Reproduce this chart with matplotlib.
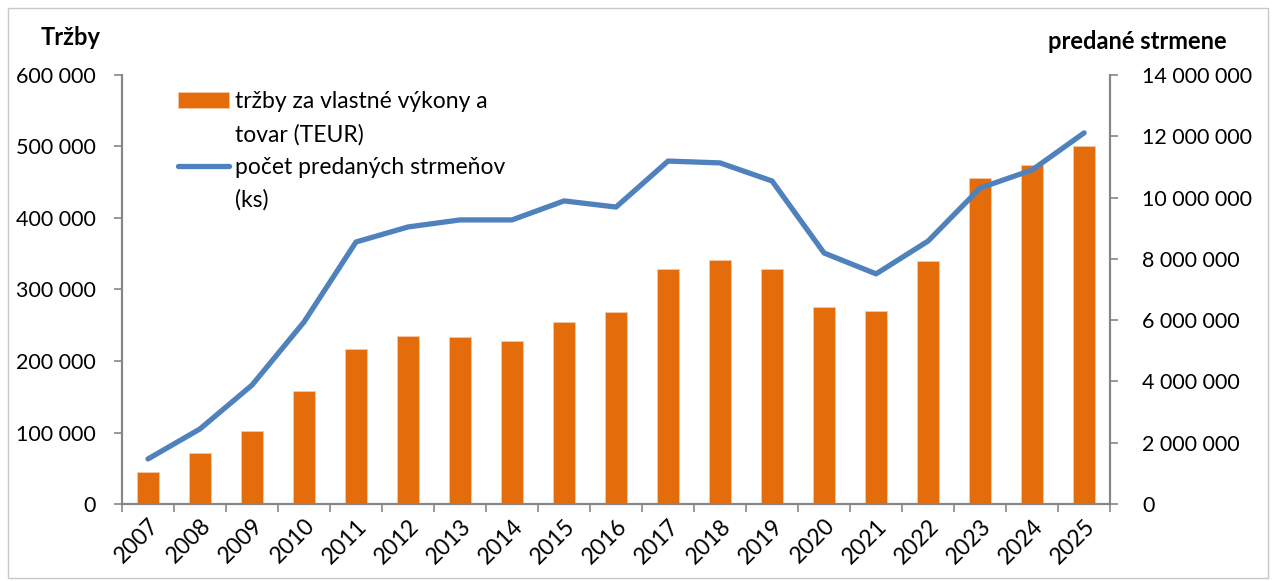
import matplotlib.pyplot as plt
import matplotlib.ticker as mticker
from matplotlib.patches import Rectangle
from matplotlib.lines import Line2D
import numpy as np

plt.rcParams['font.family'] = ['Lato', 'DejaVu Sans']

roky = ['2007', '2008', '2009', '2010', '2011', '2012', '2013', '2014', '2015', '2016',
        '2017', '2018', '2019', '2020', '2021', '2022', '2023', '2024', '2025']
trzby = [45000, 71000, 102000, 158000, 217000, 235000, 233500, 228000, 254500, 268500,
         329000, 341000, 329000, 275500, 270000, 340000, 456000, 474000, 501000]
strmene = [1470000, 2450000, 3880000, 5940000, 8550000, 9040000, 9270000, 9270000, 9890000, 9690000,
           11190000, 11130000, 10540000, 8190000, 7510000, 8580000, 10310000, 10900000, 12110000]

def medzery(x, pos):
    return f'{int(x):,}'.replace(',', ' ')

fig = plt.figure(figsize=(12.76, 5.81), dpi=100)
fig.patches.append(Rectangle((0.006, 0.006), 0.988, 0.98, transform=fig.transFigure,
                             fill=False, edgecolor='#c8c8c8', linewidth=1))
ax = fig.add_axes([0.0956, 0.1325, 0.7744, 0.7385])
ax2 = ax.twinx()

x = np.arange(len(roky))
b = ax.bar(x, trzby, width=0.42, color='#E46C0A', edgecolor='#f3c9a6', linewidth=0.6)
l, = ax2.plot(x, strmene, color='#4F81BD', linewidth=3.8, solid_capstyle='round')

ax.set_xlim(-0.5, len(roky) - 0.5)
ax.set_ylim(0, 600000)
ax2.set_ylim(0, 14000000)
ax.yaxis.set_major_locator(mticker.MultipleLocator(100000))
ax2.yaxis.set_major_locator(mticker.MultipleLocator(2000000))
ax.yaxis.set_major_formatter(mticker.FuncFormatter(medzery))
ax2.yaxis.set_major_formatter(mticker.FuncFormatter(medzery))

ax.set_xticks(x)
ax.set_xticklabels(roky, rotation=45, ha='right', rotation_mode='anchor', fontsize=16.5)
ax.set_xticks(np.arange(-0.5, len(roky)), minor=True)
ax.tick_params(axis='x', which='major', length=0, pad=8)
ax.tick_params(axis='x', which='minor', length=6, color='#868686', width=1.2)
ax.tick_params(axis='y', length=6, color='#868686', width=1.2, labelsize=15.5, pad=13)
ax2.tick_params(axis='y', length=6, color='#868686', width=1.2, labelsize=15.5, pad=17)

for a in (ax, ax2):
    a.spines['top'].set_visible(False)
    for s in ('left', 'right', 'bottom'):
        a.spines[s].set_color('#868686')
        a.spines[s].set_linewidth(1.5)

fig.text(0.055, 0.935, 'Tržby', fontsize=17, fontweight='bold', ha='center', va='center')
fig.text(0.891, 0.928, 'predané strmene', fontsize=17, fontweight='bold', ha='center', va='center')

# dvojriadkové položky legendy: druhý riadok ako položka bez značky
prazdna = Line2D([], [], linestyle='none')
ax.legend([b, prazdna, l, prazdna],
          ['tržby za vlastné výkony a', 'tovar (TEUR)', 'počet predaných strmeňov', '(ks)'],
          loc='upper left', bbox_to_anchor=(0.036, 1.01), frameon=False, fontsize=16.5,
          handlelength=2.2, handletextpad=0.3, labelspacing=0.5)

fig.savefig('out.png', dpi=100)
